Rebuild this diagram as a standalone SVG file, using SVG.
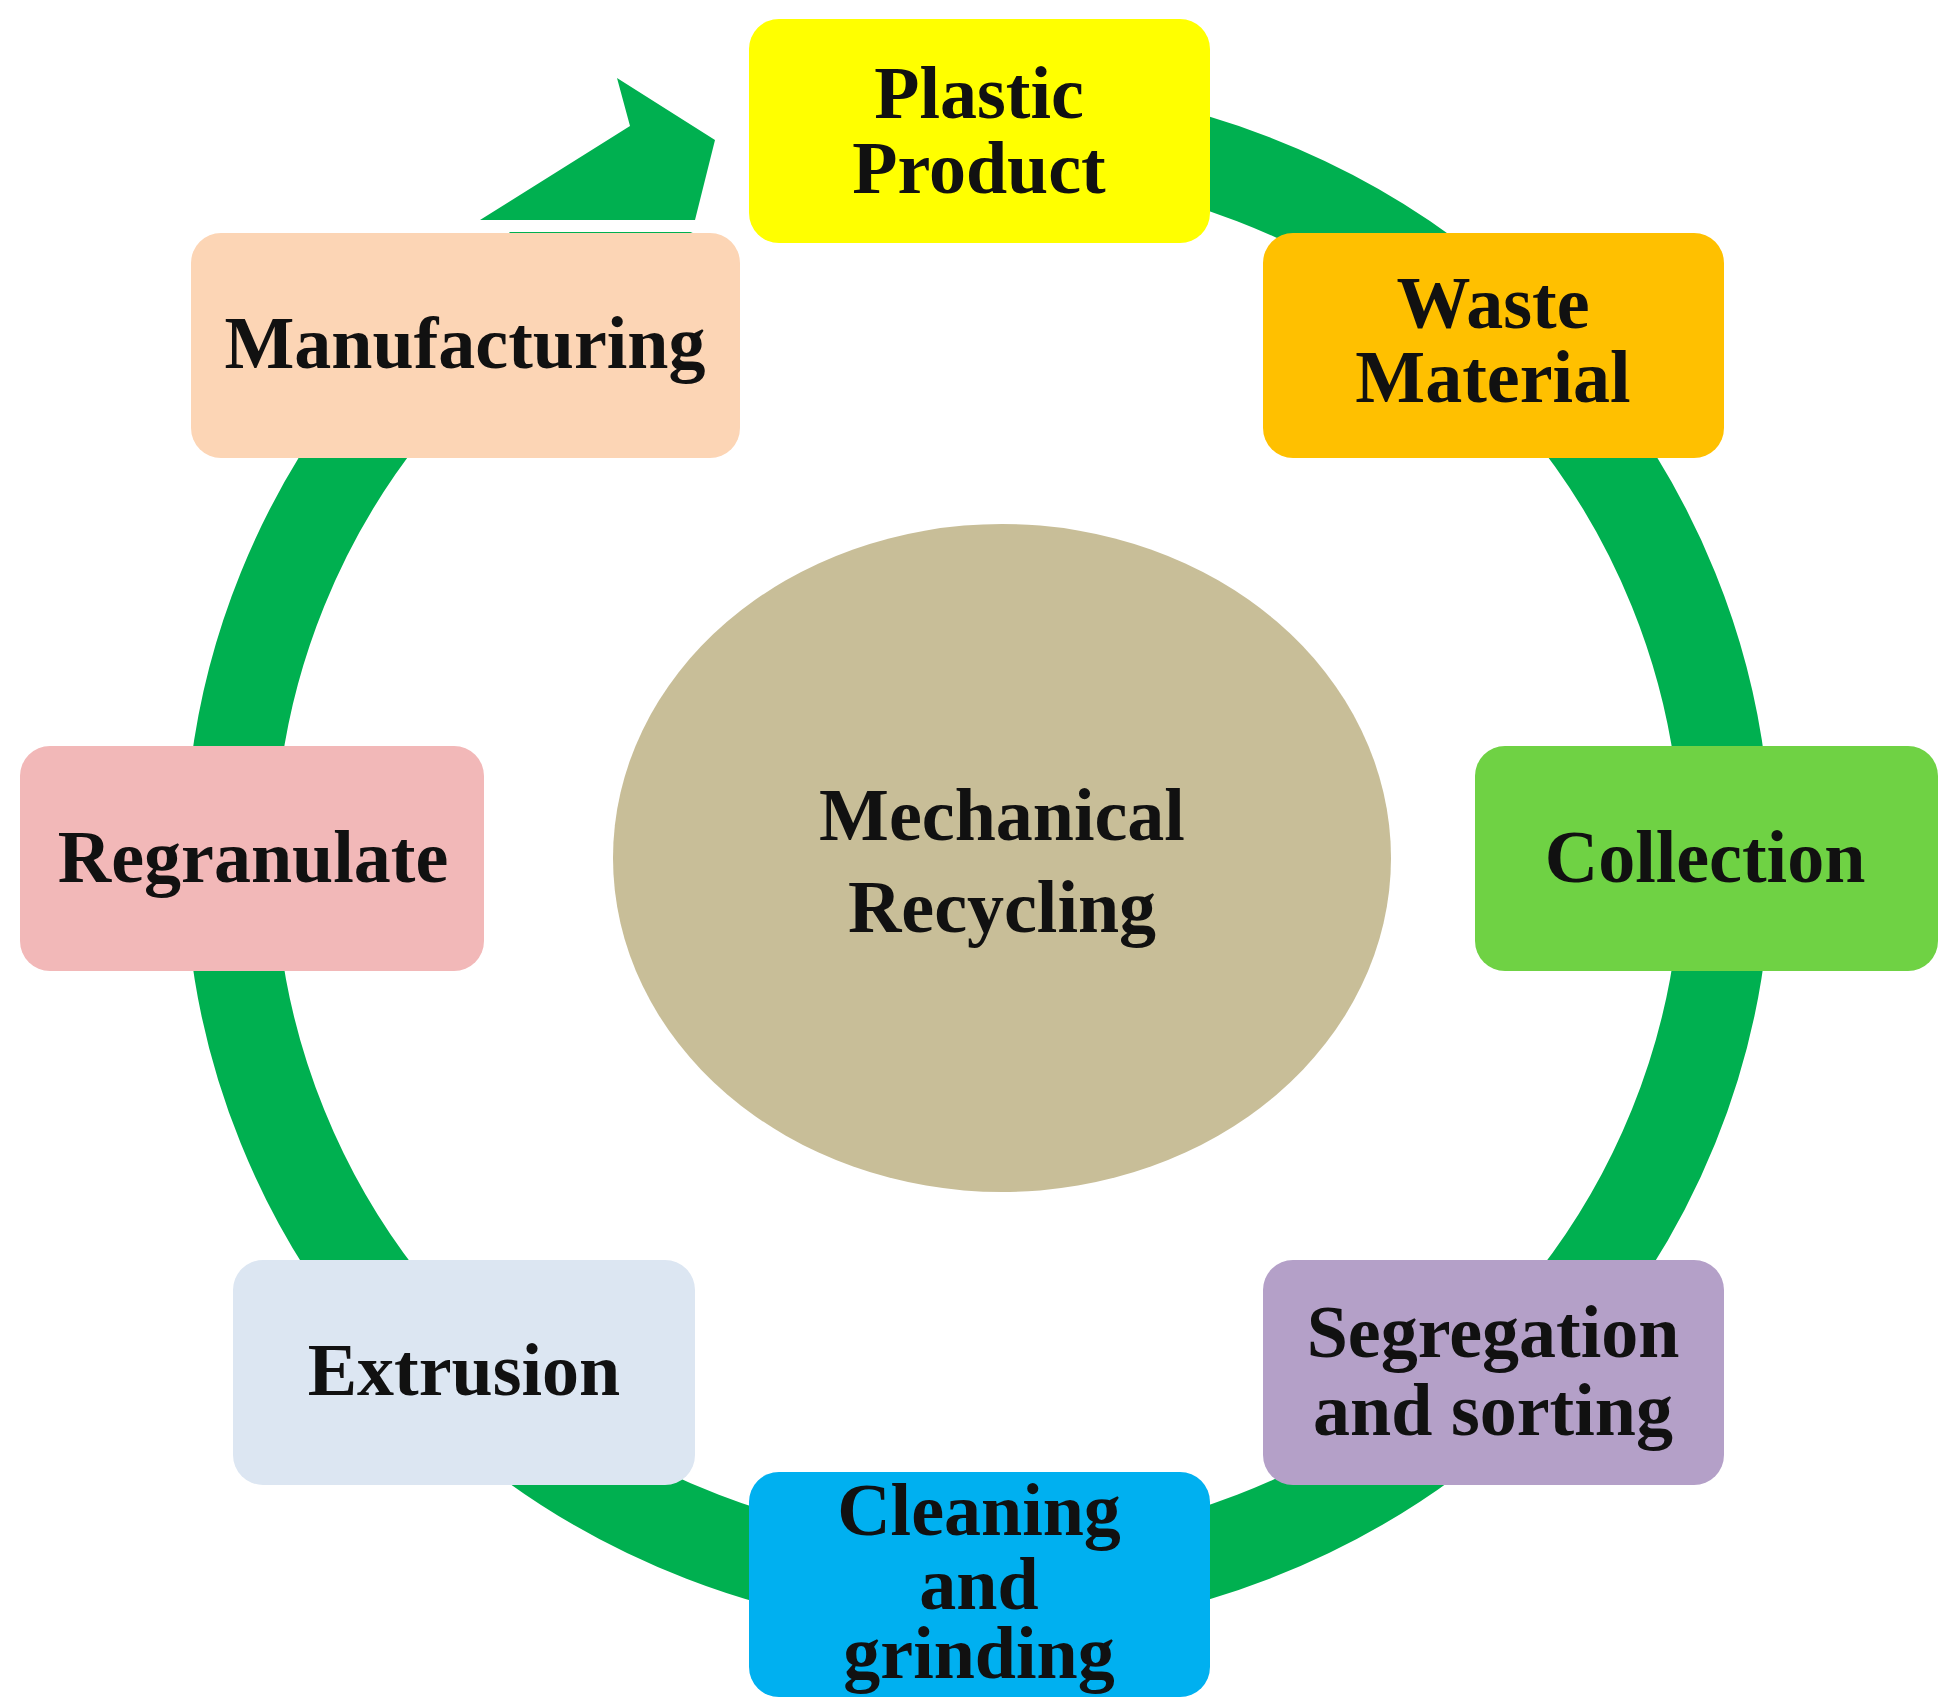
<svg xmlns="http://www.w3.org/2000/svg" width="1945" height="1707" viewBox="0 0 1945 1707">
<style>
.t{font-family:"Liberation Serif",serif;font-weight:bold;font-size:74px;fill:#111;text-anchor:middle}
.b{stroke:none}
</style>
<rect width="1945" height="1707" fill="#fff"/>
<g id="connectors">
<ellipse cx="978" cy="858" rx="748" ry="730" fill="none" stroke="#00B050" stroke-width="90"/>
<rect x="440" y="0" width="309" height="232" fill="#fff"/>
<polygon points="480,220 630,126 617,78 715,140 695,220" fill="#00B050"/>
</g>
<g id="plastic"><rect class="b" x="749" y="19" width="461" height="224" rx="30" fill="#FFFF00"/><text class="t" x="979" y="118">Plastic</text><text class="t" x="979" y="193">Product</text></g>
<g id="waste"><rect class="b" x="1263" y="233" width="461" height="225" rx="30" fill="#FFC000"/><text class="t" x="1493" y="328">Waste</text><text class="t" x="1493" y="402">Material</text></g>
<g id="collection"><rect class="b" x="1475" y="746" width="463" height="225" rx="30" fill="#6FD244"/><text class="t" x="1705" y="882">Collection</text></g>
<g id="segregation"><rect class="b" x="1263" y="1260" width="461" height="225" rx="30" fill="#B4A0C8"/><text class="t" x="1493" y="1357">Segregation</text><text class="t" x="1493" y="1435">and sorting</text></g>
<g id="cleaning"><rect class="b" x="749" y="1472" width="461" height="225" rx="30" fill="#00B0F0"/><text class="t" x="979" y="1535">Cleaning</text><text class="t" x="979" y="1609">and</text><text class="t" x="979" y="1678">grinding</text></g>
<g id="extrusion"><rect class="b" x="233" y="1260" width="462" height="225" rx="30" fill="#DCE6F2"/><text class="t" x="464" y="1395">Extrusion</text></g>
<g id="regranulate"><rect class="b" x="20" y="746" width="464" height="225" rx="30" fill="#F2B8B8"/><text class="t" x="253" y="882">Regranulate</text></g>
<g id="manufacturing"><rect class="b" x="191" y="233" width="549" height="225" rx="30" fill="#FCD5B5"/><text class="t" x="465" y="368">Manufacturing</text></g>
<g id="center"><ellipse cx="1002" cy="858" rx="389" ry="334" fill="#C8BE98"/><text class="t" x="1002" y="840">Mechanical</text><text class="t" x="1002" y="932">Recycling</text></g>
</svg>
